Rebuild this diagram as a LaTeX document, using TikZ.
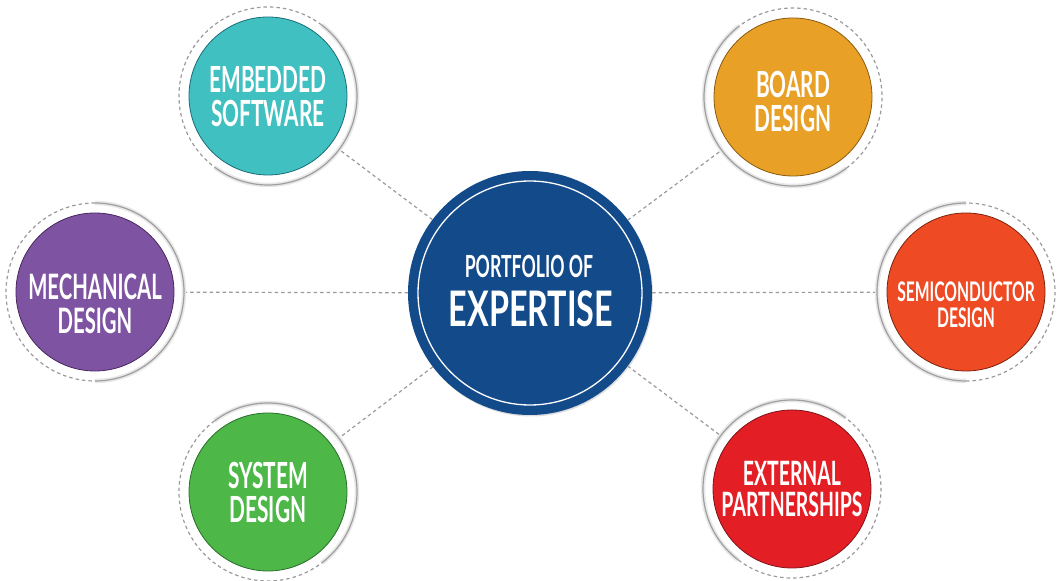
\documentclass[tikz,border=0pt]{standalone}
\usepackage{fontspec}
\setmainfont[FakeStretch=0.58]{Lato}
\newfontfamily\widefont[FakeStretch=0.66]{Lato}
\usepackage{tikz}
\usetikzlibrary{calc,positioning,shadows}

\definecolor{hubblue}{HTML}{124A8A}
\definecolor{tealfill}{HTML}{40C0C0}
\definecolor{tealedge}{HTML}{1B6C7A}
\definecolor{goldfill}{HTML}{E8A027}
\definecolor{goldedge}{HTML}{8A5A10}
\definecolor{purplefill}{HTML}{7E53A1}
\definecolor{purpleedge}{HTML}{4A2660}
\definecolor{orangefill}{HTML}{EE4A24}
\definecolor{orangeedge}{HTML}{7A2410}
\definecolor{greenfill}{HTML}{4DB748}
\definecolor{greenedge}{HTML}{2A6E2A}
\definecolor{redfill}{HTML}{E31E25}
\definecolor{rededge}{HTML}{80141A}
\definecolor{linegray}{HTML}{9A9A9A}

\tikzset{
  ring/.style={circle, minimum size=178pt, inner sep=0pt, outer sep=0pt},
  disc/.style={circle, minimum size=158pt, inner sep=0pt, line width=0.8pt},
  caption/.style={text=white, align=center, inner sep=0pt,
    font=\bfseries\fontsize{36}{34}\selectfont},
  link/.style={draw=linegray, line width=1.2pt, dash pattern=on 3.5pt off 3pt},
  ringdash/.style={draw=linegray, line width=1.2pt, dash pattern=on 3.5pt off 3pt},
  ringline/.style={draw=gray!75, line width=1.2pt,
    preaction={draw=gray!18, line width=4.5pt}},
}

\begin{document}
\begin{tikzpicture}[x=1pt,y=1pt]
  \useasboundingbox (0,0) rectangle (1061,581);

  % hub
  \node [circle, fill=hubblue, minimum size=244pt, inner sep=0pt, outer sep=0pt,
    drop shadow={shadow xshift=1pt, shadow yshift=-1.5pt, opacity=0.25}] (hub) at (530,288) {};
  \draw [white, line width=1.3pt] (hub.center) circle [radius=112pt];
  \node [anchor=base, text=white, font=\bfseries\fontsize{30.5}{34}\selectfont] (hubtop) at (529,303) {PORTFOLIO OF};
  \node [anchor=base, text=white, font=\widefont\bfseries\fontsize{49}{50}\selectfont] (hubbot) at (531,254) {EXPERTISE};

  % outer rings
  \node [ring] (es) at (268,485) {};
  \node [ring] (bd) at (793,484) {};
  \node [ring] (md) at (95,289) {};
  \node [ring] (sc) at (966,289) {};
  \node [ring] (sd) at (268,89) {};
  \node [ring] (ep) at (792,92) {};

  % connectors
  \draw [link] (hub) -- (es);
  \draw [link] (hub) -- (bd);
  \draw [link] (hub) -- (md);
  \draw [link] (hub) -- (sc);
  \draw [link] (hub) -- (sd);
  \draw [link] (hub) -- (ep);

  % ring halves
  \draw [ringdash] (es.53) arc [start angle=53, end angle=233, radius=89pt];
  \draw [ringline] (es.233) arc [start angle=233, end angle=413, radius=89pt];
  \draw [ringdash] (bd.-53) arc [start angle=-53, end angle=127, radius=89pt];
  \draw [ringline] (bd.127) arc [start angle=127, end angle=307, radius=89pt];
  \draw [ringdash] (md.90) arc [start angle=90, end angle=270, radius=89pt];
  \draw [ringline] (md.-90) arc [start angle=-90, end angle=90, radius=89pt];
  \draw [ringdash] (sc.-90) arc [start angle=-90, end angle=90, radius=89pt];
  \draw [ringline] (sc.90) arc [start angle=90, end angle=270, radius=89pt];
  \draw [ringdash] (sd.127) arc [start angle=127, end angle=307, radius=89pt];
  \draw [ringline] (sd.-53) arc [start angle=-53, end angle=127, radius=89pt];
  \draw [ringdash] (ep.-127) arc [start angle=-127, end angle=53, radius=89pt];
  \draw [ringline] (ep.53) arc [start angle=53, end angle=233, radius=89pt];

  % coloured discs
  \node [disc, fill=tealfill, draw=tealedge] (esd) at (es) {};
  \node [disc, fill=goldfill, draw=goldedge] (bdd) at (bd) {};
  \node [disc, fill=purplefill, draw=purpleedge] (mdd) at (md) {};
  \node [disc, fill=orangefill, draw=orangeedge] (scd) at (sc) {};
  \node [disc, fill=greenfill, draw=greenedge] (sdd) at (sd) {};
  \node [disc, fill=redfill, draw=rededge] (epd) at (ep) {};

  % captions
  \node [caption] (est) at ([yshift=-1pt]esd.center) {EMBEDDED\\SOFTWARE};
  \node [caption] (bdt) at ([yshift=-4pt]bdd.center) {BOARD\\DESIGN};
  \node [caption, font=\bfseries\fontsize{35}{34}\selectfont] (mdt) at ([yshift=-12pt]mdd.center) {MECHANICAL\\DESIGN};
  \node [caption, font=\bfseries\fontsize{27}{26}\selectfont] (sct) at ([yshift=-13pt]scd.center) {SEMICONDUCTOR\\DESIGN};
  \node [caption] (sdt) at (sdd.center) {SYSTEM\\DESIGN};
  \node [caption, font=\bfseries\fontsize{33.5}{31}\selectfont] (ept) at (epd.center) {EXTERNAL\\PARTNERSHIPS};
\end{tikzpicture}
\end{document}
